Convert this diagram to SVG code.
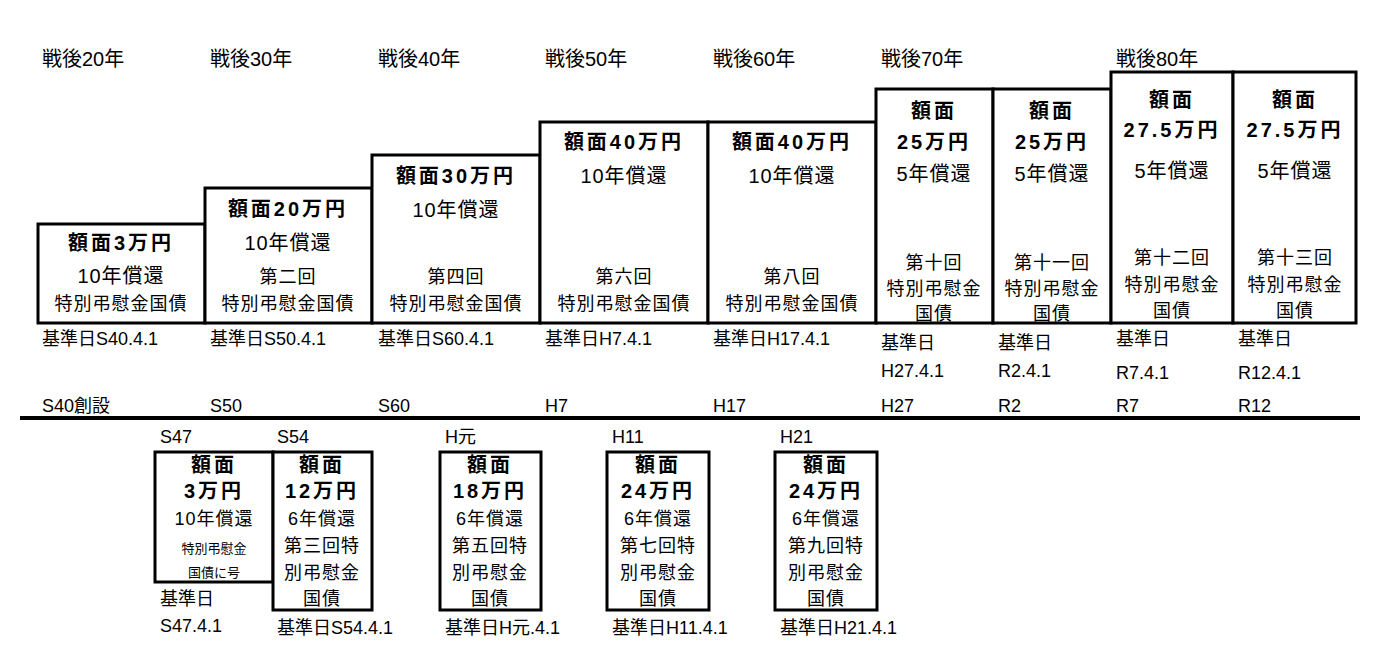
<svg xmlns="http://www.w3.org/2000/svg" width="1388" height="664" viewBox="0 0 1388 664">
<style>
text{font-family:"Liberation Sans","Noto Sans CJK JP",sans-serif;fill:#000;}
.b{fill:#fff;stroke:#000;stroke-width:3}
.h{font-size:20px;font-weight:bold;text-anchor:middle;letter-spacing:3px}
.m{font-size:20px;text-anchor:middle;letter-spacing:1px}
.s{font-size:18px;text-anchor:middle;letter-spacing:1px}
.xs{font-size:13px;text-anchor:middle}
.l{font-size:18px}
.e{font-size:20px}
</style>
<rect width="1388" height="664" fill="#fff"/>
<g id="eras">
<text class="e" x="42" y="66">戦後20年</text><text class="e" x="210" y="66">戦後30年</text><text class="e" x="378" y="66">戦後40年</text><text class="e" x="545" y="66">戦後50年</text><text class="e" x="713" y="66">戦後60年</text><text class="e" x="881" y="66">戦後70年</text><text class="e" x="1116" y="66">戦後80年</text>
</g>
<g id="n1"><rect class="b" x="38" y="224" width="167" height="99"/><text class="h" x="121" y="250">額面3万円</text><text class="m" x="121" y="283">10年償還</text><text class="s" x="121" y="310">特別弔慰金国債</text><text class="l" x="42" y="345">基準日S40.4.1</text></g>
<g id="n2"><rect class="b" x="205" y="188" width="167" height="135"/><text class="h" x="288" y="216">額面20万円</text><text class="m" x="288" y="250">10年償還</text><text class="s" x="288" y="283">第二回</text><text class="s" x="288" y="310">特別弔慰金国債</text><text class="l" x="210" y="345">基準日S50.4.1</text></g>
<g id="n3"><rect class="b" x="372" y="155" width="168" height="168"/><text class="h" x="456" y="183">額面30万円</text><text class="m" x="456" y="217">10年償還</text><text class="s" x="456" y="283">第四回</text><text class="s" x="456" y="310">特別弔慰金国債</text><text class="l" x="378" y="345">基準日S60.4.1</text></g>
<g id="n4"><rect class="b" x="540" y="122" width="168" height="201"/><text class="h" x="624" y="149">額面40万円</text><text class="m" x="624" y="183">10年償還</text><text class="s" x="624" y="283">第六回</text><text class="s" x="624" y="310">特別弔慰金国債</text><text class="l" x="545" y="345">基準日H7.4.1</text></g>
<g id="n5"><rect class="b" x="708" y="122" width="168" height="201"/><text class="h" x="792" y="149">額面40万円</text><text class="m" x="792" y="183">10年償還</text><text class="s" x="792" y="283">第八回</text><text class="s" x="792" y="310">特別弔慰金国債</text><text class="l" x="713" y="345">基準日H17.4.1</text></g>
<g id="n6"><rect class="b" x="876" y="89" width="117" height="234"/><text class="h" x="934" y="118">額面</text><text class="h" x="934" y="149">25万円</text><text class="m" x="934" y="181">5年償還</text><text class="s" x="934" y="269">第十回</text><text class="s" x="934" y="295">特別弔慰金</text><text class="s" x="934" y="320">国債</text><text class="l" x="881" y="349">基準日</text><text class="l" x="881" y="377">H27.4.1</text></g>
<g id="n7"><rect class="b" x="993" y="89" width="118" height="234"/><text class="h" x="1052" y="118">額面</text><text class="h" x="1052" y="149">25万円</text><text class="m" x="1052" y="181">5年償還</text><text class="s" x="1052" y="269">第十一回</text><text class="s" x="1052" y="295">特別弔慰金</text><text class="s" x="1052" y="320">国債</text><text class="l" x="998" y="349">基準日</text><text class="l" x="998" y="377">R2.4.1</text></g>
<g id="n8"><rect class="b" x="1111" y="72" width="122" height="251"/><text class="h" x="1172" y="107">額面</text><text class="h" x="1172" y="137">27.5万円</text><text class="m" x="1172" y="178">5年償還</text><text class="s" x="1172" y="264">第十二回</text><text class="s" x="1172" y="291">特別弔慰金</text><text class="s" x="1172" y="317">国債</text><text class="l" x="1116" y="345">基準日</text><text class="l" x="1116" y="379">R7.4.1</text></g>
<g id="n9"><rect class="b" x="1233" y="72" width="123" height="251"/><text class="h" x="1295" y="107">額面</text><text class="h" x="1295" y="137">27.5万円</text><text class="m" x="1295" y="178">5年償還</text><text class="s" x="1295" y="264">第十三回</text><text class="s" x="1295" y="291">特別弔慰金</text><text class="s" x="1295" y="317">国債</text><text class="l" x="1238" y="345">基準日</text><text class="l" x="1238" y="379">R12.4.1</text></g>
<g id="timeline">
<text class="l" x="42" y="412">S40創設</text><text class="l" x="210" y="412">S50</text><text class="l" x="378" y="412">S60</text><text class="l" x="545" y="412">H7</text><text class="l" x="713" y="412">H17</text><text class="l" x="881" y="412">H27</text><text class="l" x="998" y="412">R2</text><text class="l" x="1116" y="412">R7</text><text class="l" x="1238" y="412">R12</text>
</g>
<g id="connectors"><line x1="20" y1="418" x2="1360" y2="418" stroke="#000" stroke-width="4"/></g>
<g id="n10"><text class="l" x="160" y="443">S47</text><rect class="b" x="155" y="452" width="118" height="130"/><text class="h" x="214" y="472">額面</text><text class="h" x="214" y="498">3万円</text><text class="s" x="214" y="525">10年償還</text><text class="xs" x="214" y="553">特別弔慰金</text><text class="xs" x="214" y="577">国債に号</text><text class="l" x="160" y="605">基準日</text><text class="l" x="160" y="632">S47.4.1</text></g>
<g id="n11"><text class="l" x="277" y="443">S54</text><rect class="b" x="273" y="452" width="99" height="158"/><text class="h" x="322" y="472">額面</text><text class="h" x="322" y="498">12万円</text><text class="s" x="322" y="525">6年償還</text><text class="s" x="322" y="552">第三回特</text><text class="s" x="322" y="579">別弔慰金</text><text class="s" x="322" y="605">国債</text><text class="l" x="277" y="634">基準日S54.4.1</text></g>
<g id="n12"><text class="l" x="445" y="443">H元</text><rect class="b" x="440" y="452" width="101" height="158"/><text class="h" x="490" y="472">額面</text><text class="h" x="490" y="498">18万円</text><text class="s" x="490" y="525">6年償還</text><text class="s" x="490" y="552">第五回特</text><text class="s" x="490" y="579">別弔慰金</text><text class="s" x="490" y="605">国債</text><text class="l" x="445" y="634">基準日H元.4.1</text></g>
<g id="n13"><text class="l" x="612" y="443">H11</text><rect class="b" x="607" y="452" width="102" height="158"/><text class="h" x="658" y="472">額面</text><text class="h" x="658" y="498">24万円</text><text class="s" x="658" y="525">6年償還</text><text class="s" x="658" y="552">第七回特</text><text class="s" x="658" y="579">別弔慰金</text><text class="s" x="658" y="605">国債</text><text class="l" x="612" y="634">基準日H11.4.1</text></g>
<g id="n14"><text class="l" x="780" y="443">H21</text><rect class="b" x="775" y="452" width="102" height="158"/><text class="h" x="826" y="472">額面</text><text class="h" x="826" y="498">24万円</text><text class="s" x="826" y="525">6年償還</text><text class="s" x="826" y="552">第九回特</text><text class="s" x="826" y="579">別弔慰金</text><text class="s" x="826" y="605">国債</text><text class="l" x="780" y="634">基準日H21.4.1</text></g>
</svg>
